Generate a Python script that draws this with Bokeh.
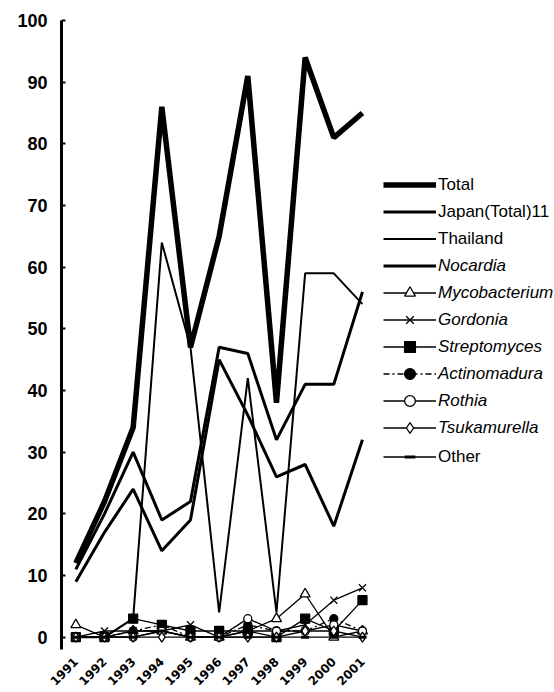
import math
from bokeh.plotting import figure
from bokeh.models import Range1d, FixedTicker, Legend, LegendItem
from bokeh.embed import file_html
from bokeh.resources import INLINE

years = list(range(1991, 2002))
total = [12, 22, 34, 86, 47, 65, 91, 38, 94, 81, 85]
japan = [11, 20, 30, 19, 22, 47, 46, 32, 41, 41, 56]
thailand = [0, 0, 3, 64, 47, 4, 42, 4, 59, 59, 54]
nocardia = [9, 17, 24, 14, 19, 45, 36, 26, 28, 18, 32]
mycobacterium = [2, 0, 1, 1, 0, 0, 1, 3, 7, 0, 1]
gordonia = [0, 1, 1, 1, 2, 0, 1, 1, 2, 6, 8]
streptomyces = [0, 0, 3, 2, 1, 1, 1, 0, 3, 1, 6]
actinomadura = [0, 0, 1, 2, 0, 0, 2, 1, 1, 3, 1]
rothia = [0, 0, 0, 1, 0, 0, 3, 1, 1, 2, 1]
tsukamurella = [0, 0, 0, 0, 0, 0, 0, 0, 1, 1, 0]
other = [0, 0, 0, 1, 0, 0, 0, 0, 0, 0, 0]
y_ticks = list(range(0, 101, 10))

p = figure(width=554, height=692, x_range=Range1d(1990.5, 2007.7), y_range=Range1d(-2, 100),
           output_backend="svg", toolbar_location=None,
           min_border_left=61, min_border_right=0, min_border_top=20, min_border_bottom=42)
p.outline_line_color = None
p.grid.visible = False
p.background_fill_color = "white"

# y axis
ya = p.yaxis[0]
ya.ticker = FixedTicker(ticks=y_ticks)
ya.axis_line_width = 3
ya.axis_line_color = "black"
ya.major_tick_in = 4
ya.major_tick_out = 0
ya.major_tick_line_width = 2
ya.minor_tick_line_color = None
ya.major_label_standoff = 14
ya.major_label_text_font = "Liberation Sans"
ya.major_label_text_font_style = "bold"
ya.major_label_text_font_size = "18px"
ya.major_label_text_color = "black"

# x axis
xa = p.xaxis[0]
xa.ticker = FixedTicker(ticks=years)
xa.axis_line_color = None
xa.major_tick_line_color = None
xa.minor_tick_line_color = None
xa.major_label_orientation = math.pi / 4
xa.major_label_standoff = 4
xa.major_label_text_font = "DejaVu Sans"
xa.major_label_text_font_style = "bold"
xa.major_label_text_font_size = "12px"
xa.major_label_text_color = "black"

# small series
def small(vals, marker, fill, size=8, dash="solid", lw=1.3):
    l = p.line(years, vals, line_color="black", line_width=lw, line_dash=dash)
    s = p.scatter(years, vals, marker=marker, size=size, line_color="black",
                  fill_color=fill, line_width=1.3)
    return [l, s]

r_myco = small(mycobacterium, "triangle", "white", 10)
r_gord = small(gordonia, "x", "white", 10)
r_strep = small(streptomyces, "square", "black", 9)
r_act = small(actinomadura, "circle", "black", 8, dash="6 3 2 3")
r_roth = small(rothia, "circle", "white", 8)
r_tsuk = small(tsukamurella, "diamond", "white", 10)
r_oth = small(other, "dash", "black", 8)
r_oth[1].glyph.line_width = 3

r_noc = p.line(years, nocardia, line_color="black", line_width=3)
r_thai = p.line(years, thailand, line_color="black", line_width=2)
r_jap = p.line(years, japan, line_color="black", line_width=3)
r_tot = p.line(years, total, line_color="black", line_width=5.5)

items_a = [LegendItem(label="Total", renderers=[r_tot]),
           LegendItem(label="Japan(Total)11", renderers=[r_jap]),
           LegendItem(label="Thailand", renderers=[r_thai])]
items_b = [LegendItem(label="Nocardia", renderers=[r_noc]),
           LegendItem(label="Mycobacterium", renderers=r_myco),
           LegendItem(label="Gordonia", renderers=r_gord),
           LegendItem(label="Streptomyces", renderers=r_strep),
           LegendItem(label="Actinomadura", renderers=r_act),
           LegendItem(label="Rothia", renderers=r_roth),
           LegendItem(label="Tsukamurella", renderers=r_tsuk)]
items_c = [LegendItem(label="Other", renderers=r_oth)]

def mk_legend(items, loc, style):
    lg = Legend(items=items, location=loc, orientation="vertical",
                padding=0, margin=0, spacing=0, glyph_width=53, glyph_height=27,
                label_height=27, label_standoff=2,
                label_text_font="Liberation Sans", label_text_font_size="17px",
                label_text_font_style=style, label_text_color="black",
                border_line_color=None, background_fill_alpha=0)
    p.add_layout(lg)
    return lg

mk_legend(items_a, (322, 397), "normal")
mk_legend(items_b, (322, 208), "italic")
mk_legend(items_c, (322, 179), "normal")

open("out.html", "w").write(file_html(p, INLINE))
